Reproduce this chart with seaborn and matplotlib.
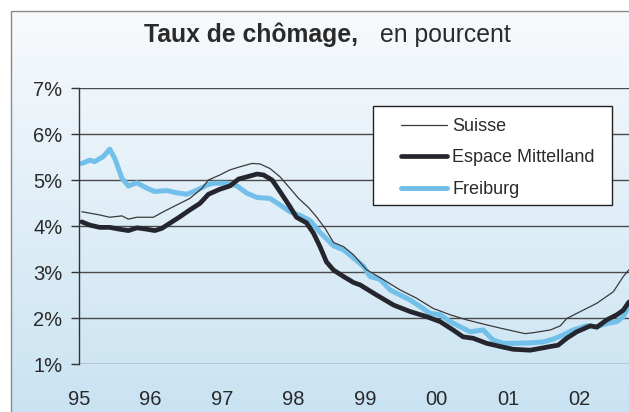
import matplotlib
matplotlib.use("Agg")
import matplotlib.pyplot as plt
import numpy as np
import pandas as pd
import seaborn as sns
from matplotlib.lines import Line2D
from matplotlib.patches import Rectangle

# decimal years, per series
suisse_t = [1995.04, 1995.15, 1995.29, 1995.43, 1995.60, 1995.69, 1995.81, 1996.04, 1996.18,
            1996.37, 1996.55, 1996.72, 1996.81, 1996.97, 1997.11, 1997.28, 1997.42, 1997.53,
            1997.67, 1997.81, 1997.95, 1998.07, 1998.21, 1998.32, 1998.44, 1998.56, 1998.70,
            1998.84, 1999.02, 1999.26, 1999.49, 1999.72, 1999.95, 2000.19, 2000.42, 2000.65,
            2000.89, 2001.12, 2001.24, 2001.35, 2001.59, 2001.73, 2001.82, 2002.01, 2002.24,
            2002.47, 2002.61, 2002.69]
suisse_v = [4.31, 4.28, 4.24, 4.19, 4.22, 4.15, 4.19, 4.19, 4.31,
            4.46, 4.60, 4.82, 5.00, 5.11, 5.22, 5.30, 5.36, 5.35,
            5.25, 5.07, 4.82, 4.60, 4.40, 4.20, 3.95, 3.64, 3.55,
            3.37, 3.05, 2.83, 2.61, 2.43, 2.21, 2.07, 1.96, 1.87,
            1.78, 1.70, 1.66, 1.68, 1.74, 1.83, 1.99, 2.14, 2.32,
            2.57, 2.90, 3.05]

espace_t = [1995.04, 1995.15, 1995.29, 1995.43, 1995.57, 1995.69, 1995.81, 1995.95, 1996.06,
            1996.16, 1996.27, 1996.41, 1996.55, 1996.69, 1996.81, 1996.97, 1997.11, 1997.23,
            1997.35, 1997.49, 1997.58, 1997.70, 1997.81, 1997.95, 1998.04, 1998.18, 1998.28,
            1998.37, 1998.46, 1998.56, 1998.70, 1998.84, 1998.93, 1999.16, 1999.40, 1999.63,
            1999.86, 2000.05, 2000.23, 2000.37, 2000.51, 2000.70, 2000.89, 2001.07, 2001.31,
            2001.45, 2001.59, 2001.70, 2001.82, 2001.96, 2002.15, 2002.24, 2002.38, 2002.52,
            2002.61, 2002.69]
espace_v = [4.09, 4.02, 3.97, 3.97, 3.93, 3.90, 3.96, 3.93, 3.90,
            3.95, 4.06, 4.20, 4.35, 4.49, 4.69, 4.80, 4.87, 5.02,
            5.07, 5.13, 5.11, 5.00, 4.75, 4.42, 4.19, 4.07, 3.84,
            3.55, 3.22, 3.04, 2.90, 2.77, 2.72, 2.50, 2.28, 2.14,
            2.03, 1.92, 1.74, 1.59, 1.56, 1.45, 1.38, 1.32, 1.30,
            1.34, 1.38, 1.41, 1.56, 1.70, 1.83, 1.80, 1.96, 2.07,
            2.17, 2.35]

freiburg_t = [1995.04, 1995.15, 1995.22, 1995.34, 1995.43, 1995.50, 1995.60, 1995.69, 1995.81,
              1995.95, 1996.06, 1996.23, 1996.37, 1996.51, 1996.65, 1996.79, 1996.88, 1997.07,
              1997.21, 1997.35, 1997.49, 1997.67, 1997.81, 1997.95, 1998.09, 1998.23, 1998.37,
              1998.56, 1998.70, 1998.84, 1998.98, 1999.07, 1999.21, 1999.35, 1999.49, 1999.63,
              1999.77, 1999.91, 2000.05, 2000.19, 2000.33, 2000.47, 2000.65, 2000.79, 2000.93,
              2001.12, 2001.31, 2001.49, 2001.63, 2001.77, 2001.91, 2002.10, 2002.24, 2002.38,
              2002.52, 2002.61, 2002.69]
freiburg_v = [5.36, 5.43, 5.40, 5.51, 5.67, 5.47, 5.04, 4.87, 4.94,
              4.82, 4.75, 4.77, 4.72, 4.69, 4.78, 4.89, 4.93, 4.93,
              4.87, 4.71, 4.62, 4.60, 4.46, 4.31, 4.23, 4.12, 3.86,
              3.57, 3.48, 3.30, 3.12, 2.90, 2.84, 2.61, 2.50, 2.39,
              2.25, 2.10, 2.07, 1.92, 1.81, 1.70, 1.74, 1.52, 1.45,
              1.45, 1.46, 1.48, 1.54, 1.63, 1.74, 1.83, 1.81, 1.88,
              1.92, 2.03, 2.25]

year_ticks = [1995, 1996, 1997, 1998, 1999, 2000, 2001, 2002]
year_labels = ["95", "96", "97", "98", "99", "00", "01", "02"]
pct_ticks = [1, 2, 3, 4, 5, 6, 7]
pct_labels = ["1%", "2%", "3%", "4%", "5%", "6%", "7%"]

series = [
    ("Suisse", suisse_t, suisse_v, "#3a3a3a", 0.9, 4),
    ("Espace Mittelland", espace_t, espace_v, "#25252e", 3.4, 3),
    ("Freiburg", freiburg_t, freiburg_v, "#72c0ea", 3.6, 2),
]

sns.set_style("white")
plt.rcParams["font.family"] = ["Liberation Sans", "DejaVu Sans"]

W, H = 629, 412
fig = plt.figure(figsize=(W / 100, H / 100), dpi=100)
fig.patch.set_facecolor("white")

# paper-like background: white at the top fading to pale blue
bg = fig.add_axes([11 / W, 0, 1 - 11 / W, 1 - 11 / H], zorder=-10)
grad = np.linspace(0, 1, 256)[:, None]
top = np.array([0.97, 0.98, 0.99])
bottom = np.array([0.79, 0.89, 0.95])
img = top[None, None, :] * (1 - grad[:, :, None]) + bottom[None, None, :] * grad[:, :, None]
bg.imshow(img, aspect="auto", extent=[0, 1, 0, 1])
bg.set_axis_off()
fig.add_artist(Rectangle((11 / W, -0.1), 1.2, 1.1 - 11 / H, transform=fig.transFigure,
                         fill=False, edgecolor="#8a8a8a", linewidth=1.0, zorder=-5))

ax = fig.add_axes([79 / W, 1 - 364 / H, 1 - 79 / W, (364 - 88) / H])
ax.set_facecolor("none")

for name, t, v, color, lw, z in series:
    df = pd.DataFrame({"year": t, "rate": v})
    sns.lineplot(data=df, x="year", y="rate", ax=ax, color=color, linewidth=lw,
                 zorder=z, estimator=None, sort=False)

ax.set_xlim(1995.0, 2002.69)
ax.set_ylim(1, 7)
ax.set_xticks(year_ticks)
ax.set_xticklabels(year_labels, fontsize=14.5, color="#2a2a2a")
ax.set_yticks(pct_ticks)
ax.set_yticklabels(pct_labels, fontsize=14.5, color="#2a2a2a")
ax.tick_params(axis="x", length=0, pad=19)
ax.tick_params(axis="y", length=6, width=1, color="#333333", pad=6, left=True)
ax.set_xlabel("")
ax.set_ylabel("")
ax.grid(axis="y", color="#4a4a4a", linewidth=1.0)
ax.set_axisbelow(True)
for side in ["top", "right", "bottom"]:
    ax.spines[side].set_visible(False)
ax.spines["left"].set_color("#333333")
ax.spines["left"].set_linewidth(1.0)

# legend box drawn by hand so its size matches the original
fig.add_artist(Rectangle((373 / W, 1 - 205 / H), (612 - 373) / W, (205 - 106) / H,
                         transform=fig.transFigure, facecolor="white",
                         edgecolor="#222222", linewidth=1.0, zorder=4.5))
handles = [Line2D([0], [0], color=c, linewidth=lw) for _, _, _, c, lw, _ in series]
labels = [s[0] for s in series]
leg = fig.legend(handles, labels, loc="upper left", bbox_to_anchor=(401 / W, 1 - 118 / H),
                 fontsize=13, frameon=False, handlelength=2.55, borderpad=0,
                 labelspacing=0.8, handletextpad=0.3, borderaxespad=0)
leg.set_zorder(5)
for txt in leg.get_texts():
    txt.set_color("#2a2a2a")

fig.text(358 / W, 1 - 35 / H, "Taux de chômage,", ha="right", va="center",
         fontsize=17.8, fontweight="bold", color="#2a2a2a")
fig.text(380 / W, 1 - 35 / H, "en pourcent", ha="left", va="center",
         fontsize=17.8, color="#2a2a2a")

fig.savefig("out.png", dpi=100)
